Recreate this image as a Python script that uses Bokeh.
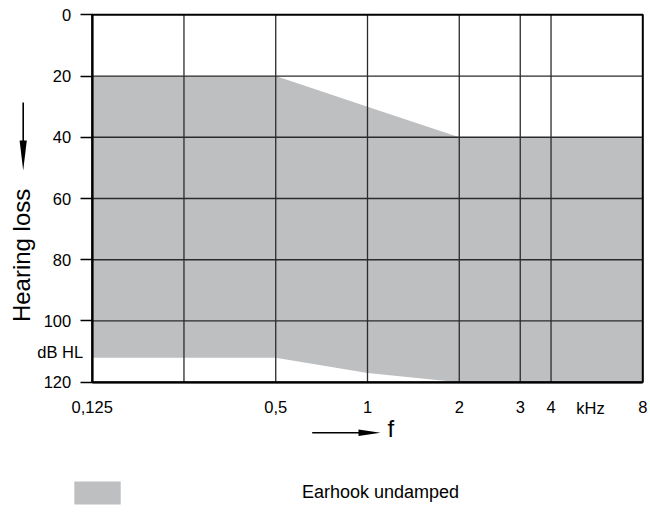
from math import pi
from bokeh.plotting import figure
from bokeh.models import (Range1d, FixedTicker, Label, Arrow, PolyAnnotation,
                          Legend, LegendItem)
from bokeh.embed import file_html
from bokeh.resources import INLINE

# ---- data ----
freq_khz = [0.125, 0.5, 1, 2, 8]
upper_db = [20, 20, 30, 40, 40]
lower_db = [112, 112, 117, 120, 120]
tick_freqs = [0.125, 0.25, 0.5, 1, 2, 3.17, 4, 8]
tick_labels = ["0,125", "", "0,5", "1", "2", "3", "4", "8"]
grid_freqs = [0.25, 0.5, 1, 2, 3.17, 4]
db_ticks = [0, 20, 40, 60, 80, 100, 120]
grid_db = [20, 40, 60, 80, 100]
series_label = "Earhook undamped"

FONT = "Liberation Sans"
W, H = 648, 510
X0, X1 = 91.7, 642.3      # pixel of 0.125 kHz and 8 kHz
Y0, Y1 = 14.3, 381.7      # pixel of 0 dB and 120 dB
OCT = (X1 - X0) / 6.0
DBPX = (Y1 - Y0) / 120.0


def px2x(px):
    return 0.125 * 2 ** ((px - X0) / OCT)


def px2y(py):
    return (py - Y0) / DBPX


p = figure(width=W, height=H, x_axis_type="log",
           x_range=Range1d(px2x(0), px2x(W)), y_range=Range1d(px2y(H), px2y(0)),
           output_backend="svg", toolbar_location=None,
           min_border_left=0, min_border_right=0,
           min_border_top=0, min_border_bottom=0)

p.background_fill_color = "white"
p.border_fill_color = "white"
p.outline_line_color = None
p.grid.visible = False

r = p.varea(x=freq_khz, y1=upper_db, y2=lower_db, fill_color="#bebfc1")

# grid lines
p.segment(x0=grid_freqs, y0=[db_ticks[0]] * len(grid_freqs),
          x1=grid_freqs, y1=[db_ticks[-1]] * len(grid_freqs),
          line_color="#2b2b2b", line_width=1.3)
p.segment(x0=[freq_khz[0]] * len(grid_db), y0=grid_db,
          x1=[freq_khz[-1]] * len(grid_db), y1=grid_db,
          line_color="#2b2b2b", line_width=1.3)
# frame box
p.quad(left=freq_khz[0], right=freq_khz[-1], top=db_ticks[0], bottom=db_ticks[-1],
       fill_color=None, line_color="black", line_width=2)

# axes at the box edges
p.xaxis.fixed_location = db_ticks[-1]
p.xaxis.bounds = (freq_khz[0], freq_khz[-1])
p.xaxis.ticker = FixedTicker(ticks=tick_freqs)
p.xaxis.major_label_overrides = dict(zip(tick_freqs, tick_labels))
p.xaxis.axis_line_color = "black"
p.xaxis.axis_line_width = 2
p.xaxis.major_tick_out = 0
p.xaxis.major_tick_in = 0
p.xaxis.minor_tick_line_color = None
p.xaxis.major_label_standoff = 19
p.xaxis.major_label_text_font = FONT
p.xaxis.major_label_text_font_size = "16.5px"
p.xaxis.major_label_text_color = "black"

p.yaxis.fixed_location = freq_khz[0]
p.yaxis.bounds = (db_ticks[0], db_ticks[-1])
p.yaxis.ticker = FixedTicker(ticks=db_ticks)
p.yaxis.axis_line_color = "black"
p.yaxis.axis_line_width = 2
p.yaxis.major_tick_out = 12
p.yaxis.major_tick_in = 0
p.yaxis.major_tick_line_width = 1.6
p.yaxis.major_tick_line_color = "black"
p.yaxis.minor_tick_line_color = None
p.yaxis.major_label_standoff = 9
p.yaxis.major_label_text_font = FONT
p.yaxis.major_label_text_font_size = "16.5px"
p.yaxis.major_label_text_color = "black"

# texts
p.add_layout(Label(x=px2x(20.5), y=px2y(254.9), text="Hearing loss", angle=pi / 2,
                   text_align="center", text_baseline="middle",
                   text_font=FONT, text_font_size="24px", text_color="black"))
p.add_layout(Label(x=px2x(82.7), y=px2y(351.3), text="dB HL",
                   text_align="right", text_baseline="middle",
                   text_font=FONT, text_font_size="16.5px", text_color="black"))
p.add_layout(Label(x=px2x(590), y=px2y(407.3), text="kHz",
                   text_align="center", text_baseline="middle",
                   text_font=FONT, text_font_size="16.5px", text_color="black"))
p.add_layout(Label(x=px2x(387), y=px2y(427.5), text="f",
                   text_align="left", text_baseline="middle",
                   text_font=FONT, text_font_size="24px", text_color="black"))

# arrows
p.add_layout(Arrow(x_start=px2x(22.7), y_start=px2y(102), x_end=px2x(22.7), y_end=px2y(145),
                   end=None, line_width=1.6, line_color="black"))
p.add_layout(PolyAnnotation(xs=[px2x(19.1), px2x(26.3), px2x(22.7)],
                            ys=[px2y(140), px2y(140), px2y(170)],
                            fill_color="black", fill_alpha=1, line_color=None))
p.add_layout(Arrow(x_start=px2x(311.7), y_start=px2y(432.3), x_end=px2x(362), y_end=px2y(432.3),
                   end=None, line_width=1.6, line_color="black"))
p.add_layout(PolyAnnotation(xs=[px2x(358), px2x(358), px2x(380)],
                            ys=[px2y(429.1), px2y(435.5), px2y(432.3)],
                            fill_color="black", fill_alpha=1, line_color=None))

# legend (area legend glyphs are inset by 10% on each side)
legend = Legend(items=[LegendItem(label=series_label, renderers=[r])],
                location=(68, H - 507), padding=0, margin=0, spacing=0,
                border_line_color=None, background_fill_alpha=0,
                glyph_width=58, glyph_height=29, label_height=29,
                label_standoff=176, label_text_font=FONT,
                label_text_font_size="18px", label_text_color="black")
p.add_layout(legend)

open("out.html", "w").write(file_html(p, INLINE))
